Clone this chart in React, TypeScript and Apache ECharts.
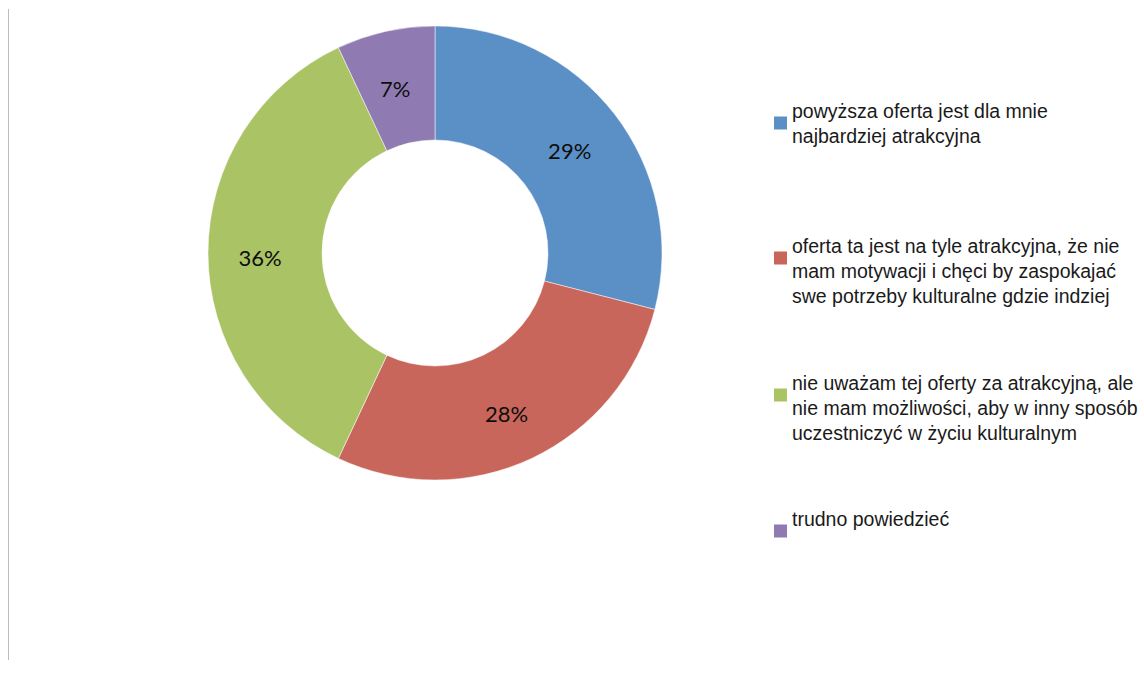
import React, { useEffect, useRef } from "react";
import * as echarts from "echarts";

const categories = [
  "powyższa oferta jest dla mnie najbardziej atrakcyjna",
  "oferta ta jest na tyle atrakcyjna, że nie mam motywacji i chęci by zaspokajać swe potrzeby kulturalne gdzie indziej",
  "nie uważam tej oferty za atrakcyjną, ale nie mam możliwości, aby w inny sposób uczestniczyć w życiu kulturalnym",
  "trudno powiedzieć",
];
const legendLines = [
  "powyższa oferta jest dla mnie\nnajbardziej atrakcyjna",
  "\noferta ta jest na tyle atrakcyjna, że nie\nmam motywacji i chęci by zaspokajać\nswe potrzeby kulturalne gdzie indziej",
  "\nnie uważam tej oferty za atrakcyjną, ale\nnie mam możliwości, aby w inny sposób\nuczestniczyć w życiu kulturalnym",
  "trudno powiedzieć\n ",
];
const values = [29, 28, 36, 7];
const colors = ["#5B90C7", "#C9665B", "#AAC364", "#8F7BB1"];

const legendTops = [98, 208, 345, 506];

export default function App() {
  const ref = useRef<HTMLDivElement>(null);
  useEffect(() => {
    document.body.style.margin = "0";
    const chart = echarts.init(ref.current!, null, { renderer: "svg" });
    chart.setOption({
      animation: false,
      backgroundColor: "#ffffff",
      color: colors,
      legend: categories.map((name, i) => ({
        data: [name],
        left: 774,
        top: legendTops[i],
        orient: "vertical",
        padding: 0,
        itemWidth: 13,
        itemHeight: 13,
        itemGap: 0,
        icon: "rect",
        selectedMode: false,
        itemStyle: { borderWidth: 0 },
        formatter: () => legendLines[i],
        textStyle: {
          fontFamily: "Liberation Sans",
          fontSize: 19.5,
          lineHeight: 25,
          color: "#1a1a1a",
        },
      })),
      graphic: [
        {
          type: "line",
          shape: { x1: 8.5, y1: 9, x2: 8.5, y2: 660 },
          style: { stroke: "#bdbdbd", lineWidth: 1 },
        },
      ],
      series: [
        {
          type: "pie",
          center: [435, 253],
          radius: [113, 227],
          startAngle: 90,
          clockwise: true,
          avoidLabelOverlap: false,
          itemStyle: { borderColor: "#ffffff", borderWidth: 0.5 },
          label: {
            show: true,
            position: "inside",
            formatter: "{c}%",
            fontFamily: "Lato",
            fontSize: 22,
            color: "#0d0d0d",
            offset: [-2, 4],
          },
          labelLine: { show: false },
          emphasis: { disabled: true },
          data: categories.map((name, i) => ({ name, value: values[i] })),
        },
      ],
    });
    return () => chart.dispose();
  }, []);
  return <div ref={ref} style={{ width: 1144, height: 677 }} />;
}
